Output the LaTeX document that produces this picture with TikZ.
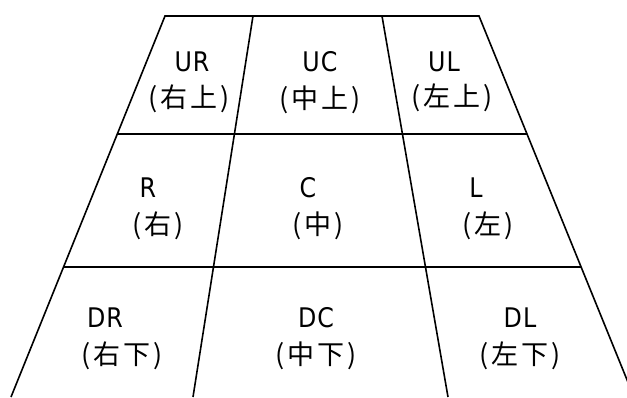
\documentclass[tikz,border=0pt]{standalone}
\usepackage{fontspec}
\newfontfamily\cjk[LetterSpace=10]{Noto Sans CJK SC}
\newfontfamily\lat[FakeStretch=0.88,LetterSpace=4]{DejaVu Sans}
\begin{document}
\begin{tikzpicture}[x=1pt,y=-1pt,
  gridline/.style={line width=1.6pt, black},
  en/.style={font=\lat\fontsize{27}{27}\selectfont, inner sep=0pt},
  zh/.style={font=\cjk\fontsize{27}{27}\selectfont, inner sep=0pt}]
\useasboundingbox (0,0) rectangle (627,397);
\fill[white] (0,0) rectangle (627,397);
\coordinate (tl) at (165,16);
\coordinate (tr) at (479,16);
\coordinate (bl) at (11,397);
\coordinate (br) at (634,397);
\coordinate (d1t) at (253,16);
\coordinate (d1b) at (193,397);
\coordinate (d2t) at (382,16);
\coordinate (d2b) at (448,397);
\coordinate (h1l) at (118,134);
\coordinate (h1r) at (527,134);
\coordinate (h2l) at (64,267);
\coordinate (h2r) at (581,267);
\begin{scope}
\clip (0,0) rectangle (627,397);
\draw[gridline] (bl) -- (tl) -- (tr) -- (br);
\draw[gridline] (d1t) -- (d1b);
\draw[gridline] (d2t) -- (d2b);
\draw[gridline] (h1l) -- (h1r);
\draw[gridline] (h2l) -- (h2r);
\end{scope}
% row 1
\node[en] (ur) at (192,62) {UR};
\node[zh] (urz) at (189,99) {(右上)};
\node[en] (uc) at (320,62) {UC};
\node[zh] (ucz) at (320,100) {(中上)};
\node[en] (ul) at (444,62) {UL};
\node[zh] (ulz) at (452,98) {(左上)};
% row 2
\node[en] (r) at (148,188) {R};
\node[zh] (rz) at (158,226) {(右)};
\node[en] (c) at (308,188) {C};
\node[zh] (cz) at (318,226) {(中)};
\node[en] (l) at (476,188) {L};
\node[zh] (lz) at (488,226) {(左)};
% row 3
\node[en] (dr) at (105,318) {DR};
\node[zh] (drz) at (122,356) {(右下)};
\node[en] (dc) at (316,318) {DC};
\node[zh] (dcz) at (316,356) {(中下)};
\node[en] (dl) at (520,318) {DL};
\node[zh] (dlz) at (520,356) {(左下)};
\end{tikzpicture}
\end{document}
